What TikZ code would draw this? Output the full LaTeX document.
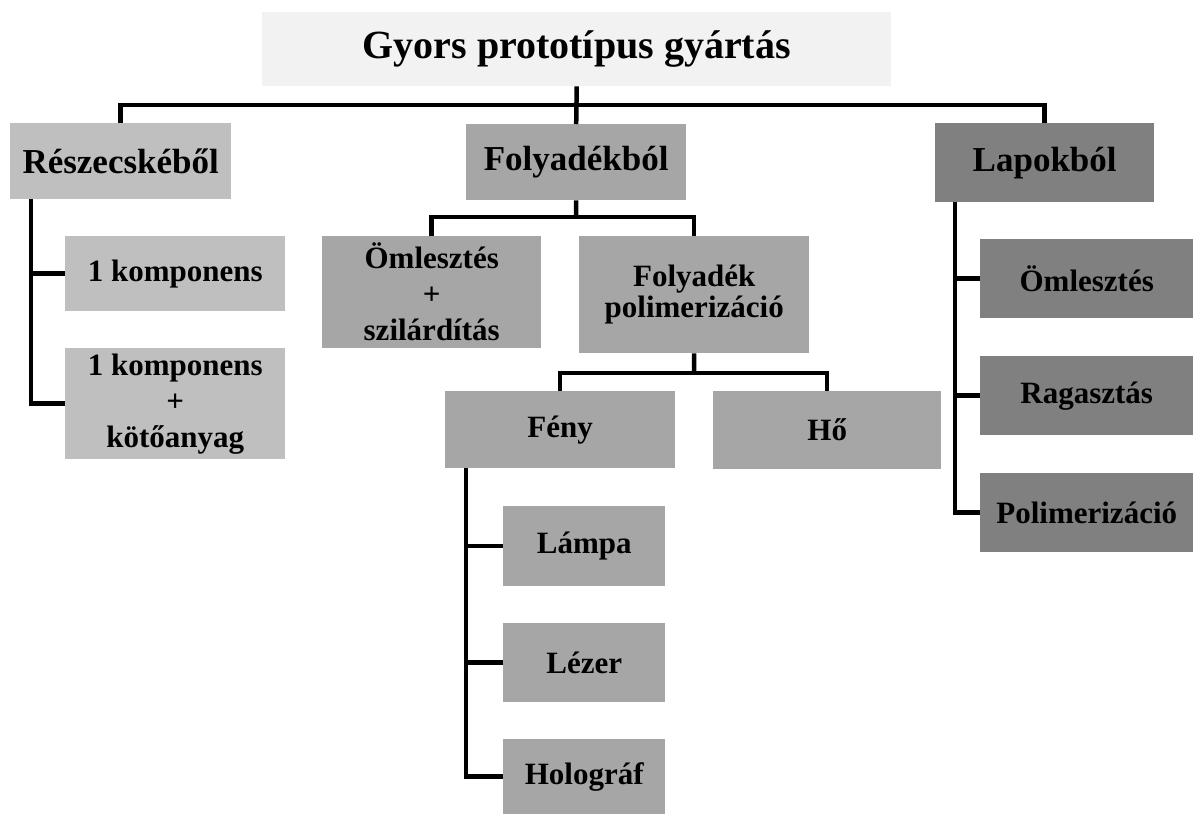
\documentclass[tikz,border=0pt]{standalone}
\usepackage{fontspec}
\setmainfont{Liberation Serif}
\usetikzlibrary{calc}
\definecolor{gtitle}{HTML}{F2F2F2}
\definecolor{gone}{HTML}{BFBFBF}
\definecolor{gtwo}{HTML}{A6A6A6}
\definecolor{gthree}{HTML}{808080}
\tikzset{
  box/.style={rectangle, inner sep=0pt, anchor=north west, align=center, text=black},
  titlefont/.style={font=\fontsize{40}{46}\selectfont\bfseries},
  levfont/.style={font=\fontsize{35}{40}\selectfont\bfseries},
  subfont/.style={font=\fontsize{31}{36}\selectfont\bfseries},
  polyfont/.style={font=\fontsize{31}{31}\selectfont\bfseries},
  conn/.style={draw=black, line width=4.5pt},
}
\begin{document}
\begin{tikzpicture}[x=1pt,y=-1pt]
\useasboundingbox (0,0) rectangle (1193,814);
\fill[white] (0,0) rectangle (1193,814);
% title
\node[box, titlefont, fill=gtitle, minimum width=629pt, minimum height=74pt] (title) at (262,12) {Gyors prototípus gyártás};
% level 1
\node[box, levfont, fill=gone, minimum width=221pt, minimum height=76pt] (r1) at (10,123) {Részecskéből};
\node[box, levfont, fill=gtwo, minimum width=220pt, minimum height=76pt] (r2) at (466,124) {Folyadékból};
\node[box, levfont, fill=gthree, minimum width=219pt, minimum height=79pt] (r3) at (935,123) {Lapokból};
% Részecskéből children
\node[box, subfont, fill=gone, minimum width=220pt, minimum height=75pt] (a1) at (65,236) {1 komponens};
\node[box, subfont, fill=gone, minimum width=220pt, minimum height=111pt] (a2) at (65,348) {1 komponens\\+\\kötőanyag};
% Folyadékból children
\node[box, subfont, fill=gtwo, minimum width=219pt, minimum height=112pt] (b1) at (322,236) {Ömlesztés\\+\\szilárdítás};
\node[box, polyfont, fill=gtwo, minimum width=230pt, minimum height=117pt] (b2) at (579,236) {Folyadék\\polimerizáció};
\node[box, subfont, fill=gtwo, minimum width=230pt, minimum height=77pt] (c1) at (445,391) {Fény};
\node[box, subfont, fill=gtwo, minimum width=228pt, minimum height=78pt] (c2) at (713,391) {Hő};
\node[box, subfont, fill=gtwo, minimum width=162pt, minimum height=80pt] (d1) at (503,506) {Lámpa};
\node[box, subfont, fill=gtwo, minimum width=162pt, minimum height=79pt] (d2) at (503,623) {Lézer};
\node[box, subfont, fill=gtwo, minimum width=162pt, minimum height=75pt] (d3) at (503,739) {Holográf};
% Lapokból children
\node[box, subfont, fill=gthree, minimum width=213pt, minimum height=79pt] (e1) at (980,239) {Ömlesztés};
\node[box, subfont, fill=gthree, minimum width=213pt, minimum height=79pt] (e2) at (980,356) {Ragasztás};
\node[box, subfont, fill=gthree, minimum width=213pt, minimum height=79pt] (e3) at (980,473) {Polimerizáció};
% connectors
\coordinate (hub) at (576.5,105);
\draw[conn] (title.south) -- (r2.north);
\draw[conn] (r1.north) |- (hub) -| (r3.north);
\coordinate (hubb) at (576,217);
\draw[conn] (r2.south) -- (hubb);
\draw[conn] (b1.north) |- (hubb) -| (b2.north);
\coordinate (hubc) at (694,373);
\draw[conn] (b2.south) -- (hubc);
\draw[conn] (c1.north) |- (hubc) -| (c2.north);
% left trunk
\coordinate (va) at (31,199);
\draw[conn] (va) |- (a2.west);
\draw[conn] (a1.west) -- (a1.west -| va);
% Fény trunk
\coordinate (vd) at (466,468);
\draw[conn] (vd) |- (d3.west);
\draw[conn] (d1.west) -- (d1.west -| vd);
\draw[conn] (d2.west) -- (d2.west -| vd);
% Lapokból trunk
\coordinate (ve) at (955,202);
\draw[conn] (ve) |- (e3.west);
\draw[conn] (e1.west) -- (e1.west -| ve);
\draw[conn] (e2.west) -- (e2.west -| ve);
\end{tikzpicture}
\end{document}
